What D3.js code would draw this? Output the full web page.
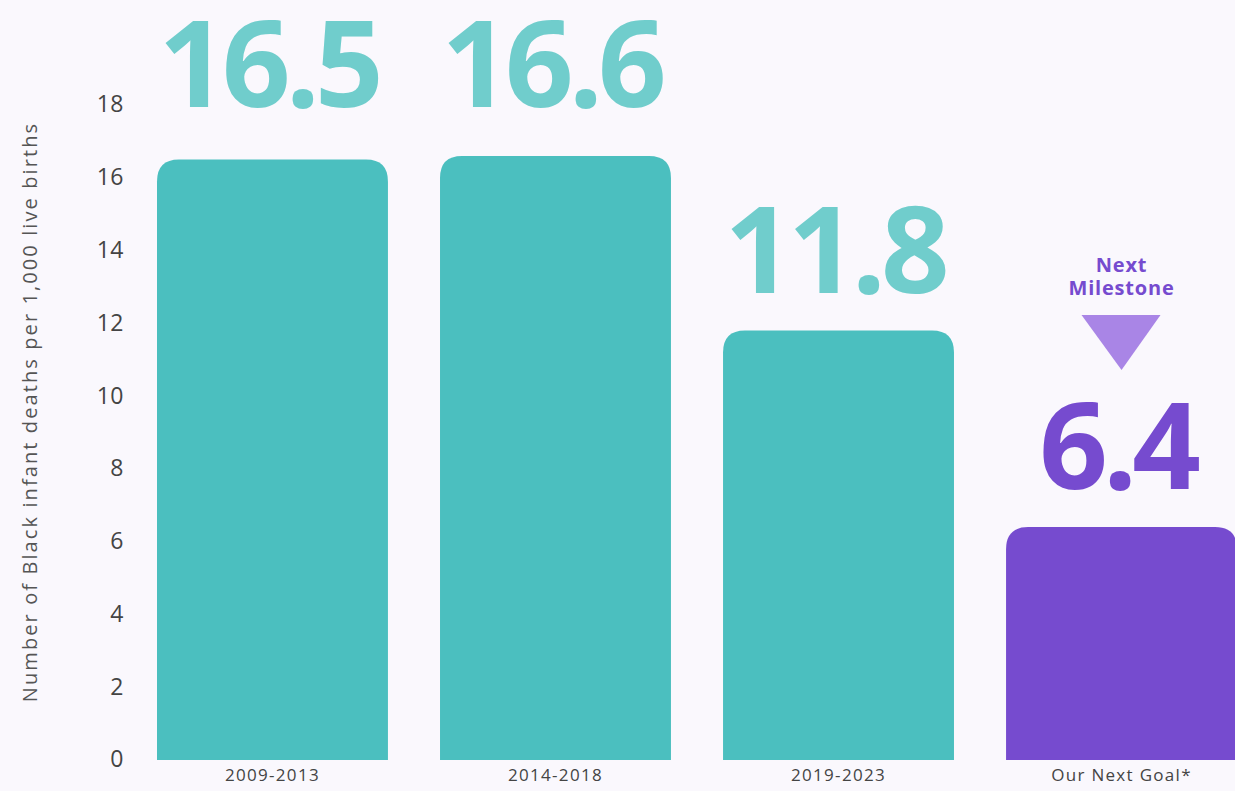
<!DOCTYPE html>
<html>
<head>
<meta charset="utf-8">
<script src="https://cdn.jsdelivr.net/npm/d3@7"></script>
<style>
  html, body { margin: 0; padding: 0; background: #faf8fd; }
  svg { display: block; font-family: "Open Sans", Lato, sans-serif; }
</style>
</head>
<body>
<svg id="chart"></svg>
<script>
// chart data
var periods = ["2009-2013", "2014-2018", "2019-2023", "Our Next Goal*"];
var rates = [16.5, 16.6, 11.8, 6.4];
var valueLabels = ["16.5", "16.6", "11.8", "6.4"];
var yTicks = [0, 2, 4, 6, 8, 10, 12, 14, 16, 18];

var width = 1235,
    height = 791;
var teal = "#4bbfbf",
    tealText = "#70cdcc",
    purple = "#764bcf",
    purpleLight = "#a985e6";

var svg = d3.select("#chart")
    .attr("width", width)
    .attr("height", height);

var x = d3.scaleBand()
    .domain(periods)
    .range([157, 1237])
    .paddingInner(0.184)
    .paddingOuter(0);

var y = d3.scaleLinear()
    .domain([0, 18])
    .range([760, 105]);

// y axis ticks (no line)
var yAxis = d3.axisLeft(y)
    .tickValues(yTicks)
    .tickSize(0)
    .tickPadding(0);

var yG = svg.append("g")
    .attr("transform", "translate(124,0)")
    .call(yAxis);
yG.select(".domain").remove();
yG.selectAll("text")
    .attr("font-size", "23px")
    .attr("fill", "#444")
    .attr("font-family", "'Open Sans', sans-serif")
    .attr("letter-spacing", "0.5px")
    .attr("dy", "0.3em");

// axis title
svg.append("text")
    .attr("transform", "translate(37," + 412 + ") rotate(-90)")
    .attr("text-anchor", "middle")
    .attr("font-size", "20px")
    .attr("letter-spacing", "2.1px")
    .attr("fill", "#555")
    .text("Number of Black infant deaths per 1,000 live births");

// x labels
var xAxis = d3.axisBottom(x).tickSize(0).tickPadding(0);
var xG = svg.append("g")
    .attr("transform", "translate(0,775)")
    .call(xAxis);
xG.select(".domain").remove();
xG.selectAll("text")
    .attr("font-size", "17px")
    .attr("letter-spacing", "1.3px")
    .attr("fill", "#444")
    .attr("font-family", "'Open Sans', sans-serif")
    .attr("dy", "0.35em");

// bars with rounded top corners
var r = 22;
function barPath(d, i) {
    var x0 = x(periods[i]), w = x.bandwidth();
    var top = y(d), bot = y(0);
    return "M" + x0 + "," + bot +
        "V" + (top + r) +
        "Q" + x0 + "," + top + " " + (x0 + r) + "," + top +
        "H" + (x0 + w - r) +
        "Q" + (x0 + w) + "," + top + " " + (x0 + w) + "," + (top + r) +
        "V" + bot + "Z";
}

svg.selectAll(".bar")
    .data(rates)
    .enter().append("path")
    .attr("class", "bar")
    .attr("d", barPath)
    .attr("fill", function (d, i) { return i === 3 ? purple : teal; });

// big value labels (tall bars have theirs pinned at the top line)
svg.selectAll(".val")
    .data(rates)
    .enter().append("text")
    .attr("class", "val")
    .attr("x", function (d, i) { return x(periods[i]) + x.bandwidth() / 2 - 4; })
    .attr("y", function (d) { return d >= 16 ? y(18) + 2 : y(d) - 38; })
    .attr("text-anchor", "middle")
    .attr("font-size", "120px")
    .attr("font-weight", 700)
    .attr("letter-spacing", "-5px")
    .attr("fill", function (d, i) { return i === 3 ? purple : tealText; })
    .text(function (d, i) { return valueLabels[i]; });

// next milestone marker
var cx = x(periods[3]) + x.bandwidth() / 2;
svg.append("text")
    .attr("x", cx)
    .attr("y", 272)
    .attr("text-anchor", "middle")
    .attr("font-size", "20px")
    .attr("letter-spacing", "0.8px")
    .attr("font-weight", 700)
    .attr("fill", purple)
    .text("Next");
svg.append("text")
    .attr("x", cx)
    .attr("y", 295)
    .attr("text-anchor", "middle")
    .attr("font-size", "20px")
    .attr("letter-spacing", "0.8px")
    .attr("font-weight", 700)
    .attr("fill", purple)
    .text("Milestone");
svg.append("path")
    .attr("d", "M" + (cx - 40) + ",315 L" + (cx + 39) + ",315 L" + cx + ",370 Z")
    .attr("fill", purpleLight);
</script>
</body>
</html>
